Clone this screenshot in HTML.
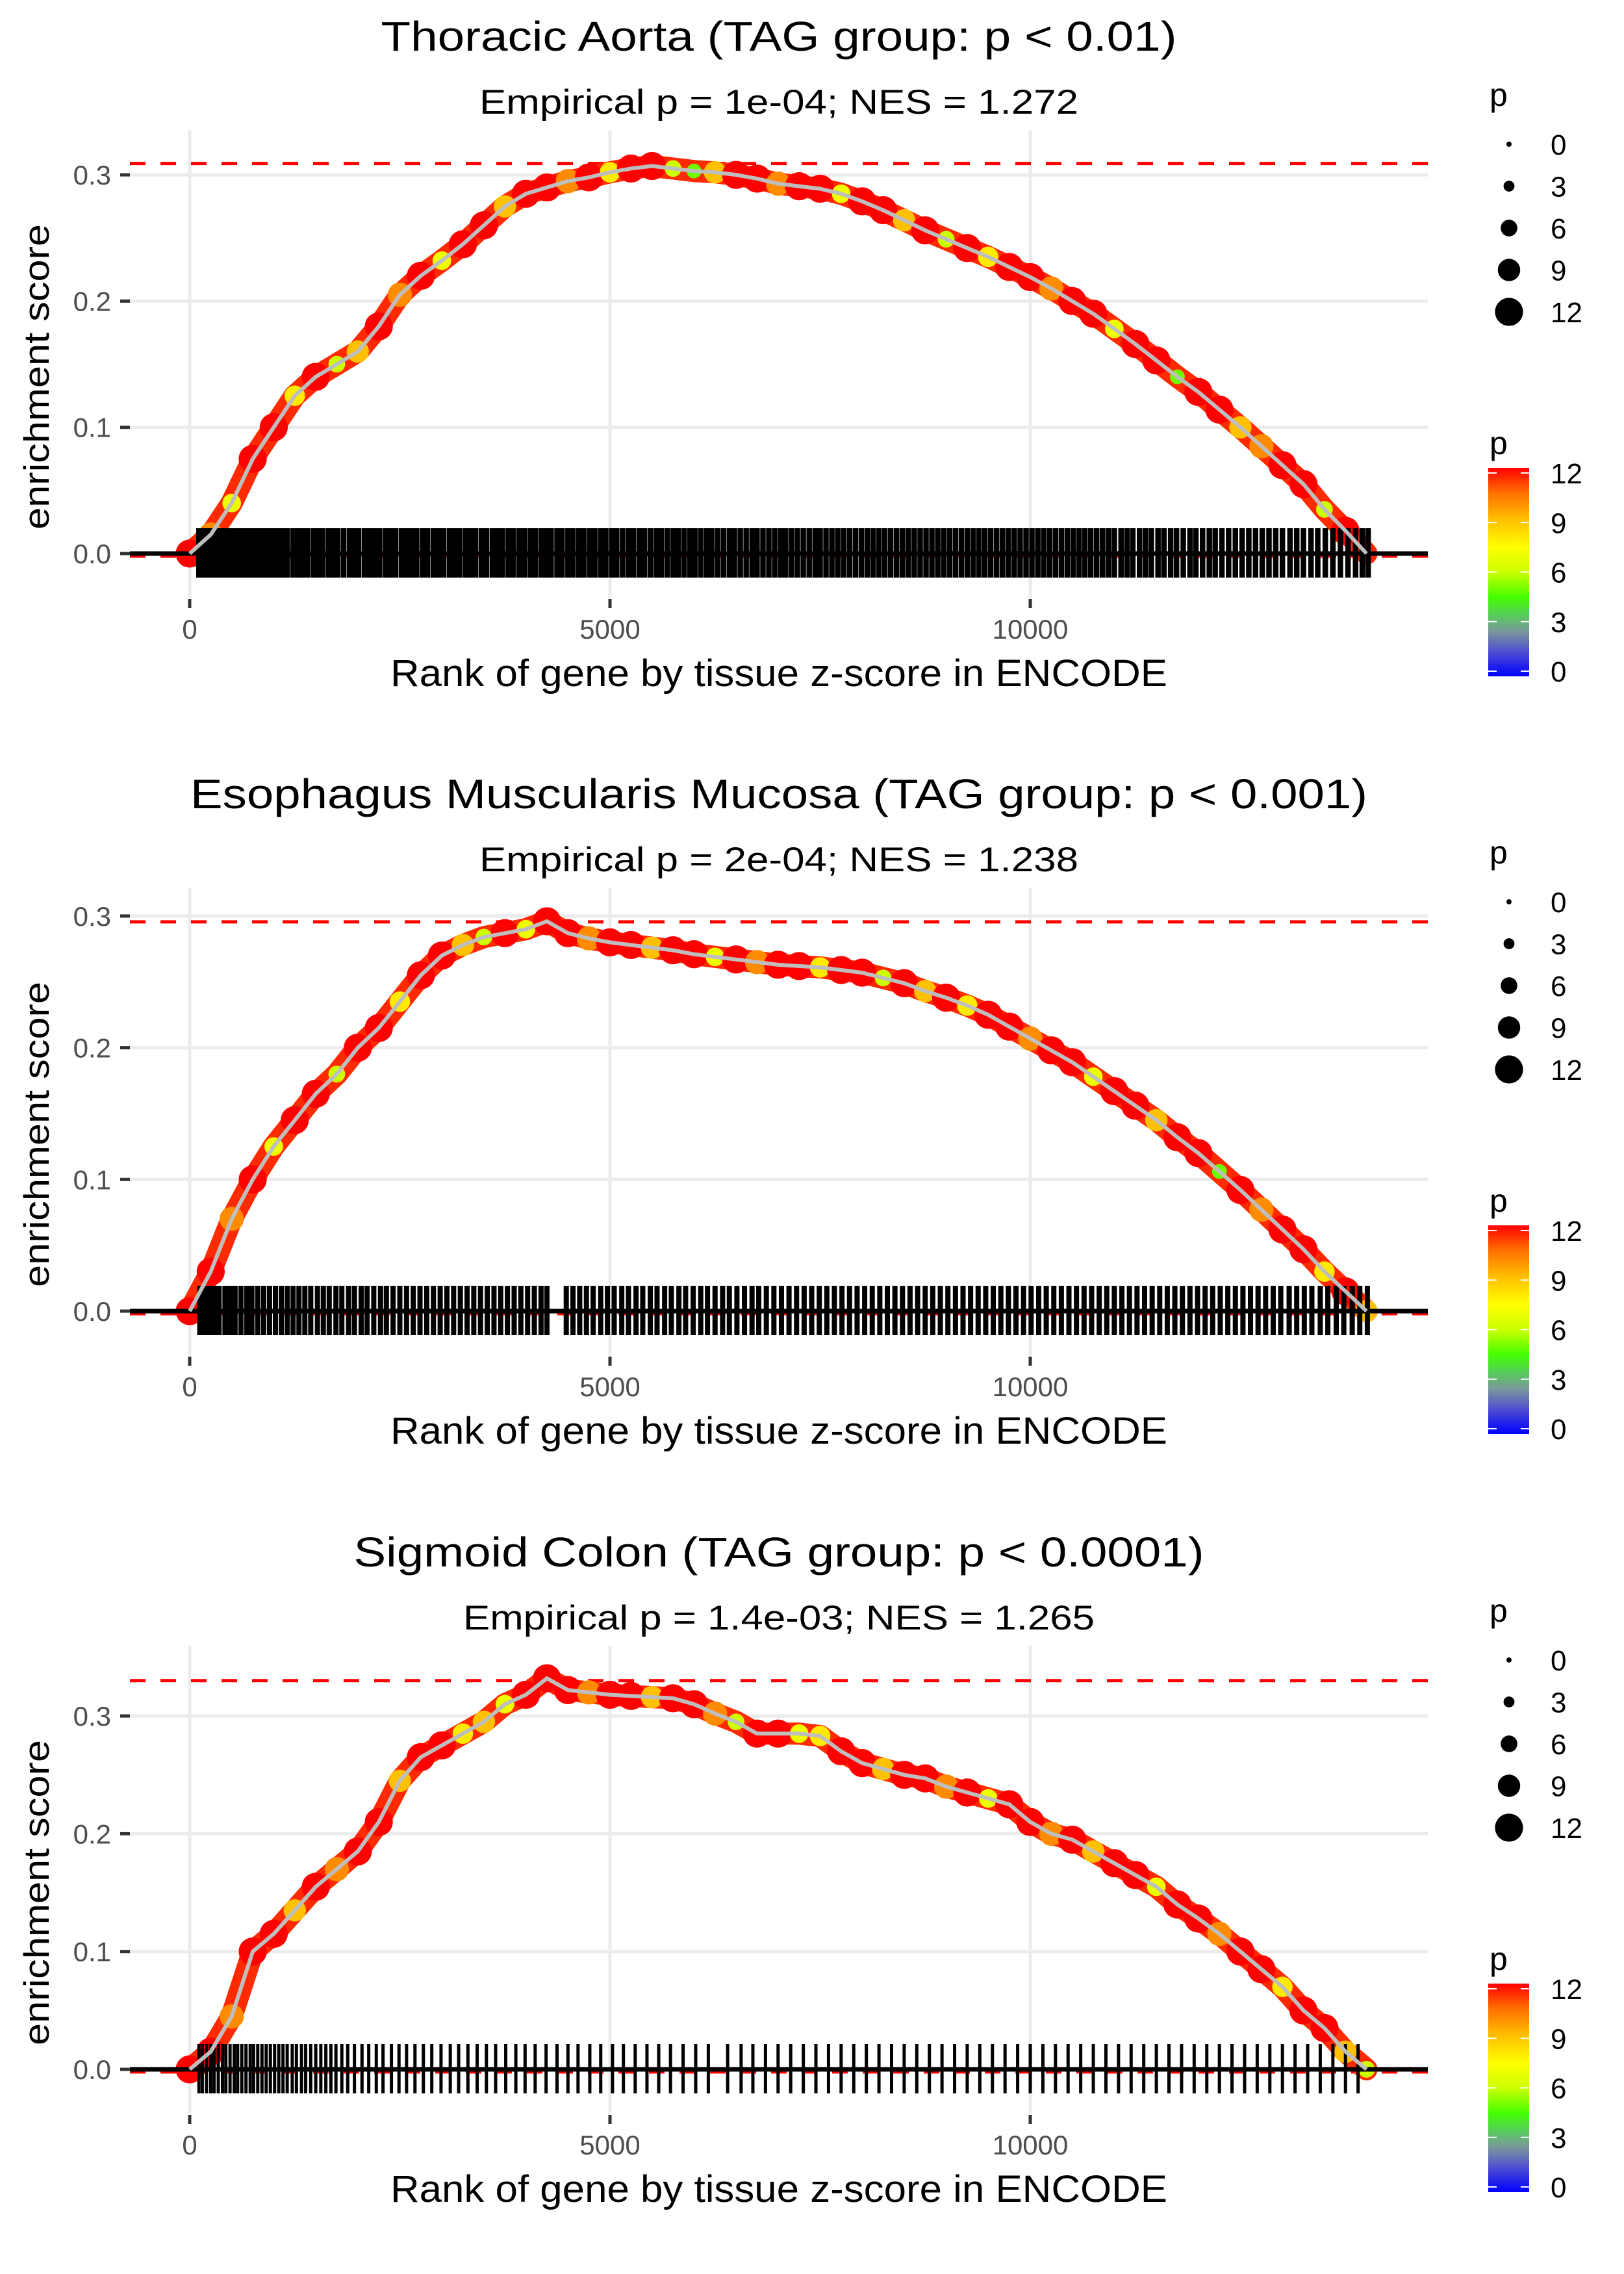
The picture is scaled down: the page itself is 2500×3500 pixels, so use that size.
<!DOCTYPE html>
<html><head><meta charset="utf-8"><style>
html,body{margin:0;padding:0;background:#fff;}
svg{display:block;font-family:"Liberation Sans",Arial,sans-serif;}
</style></head><body>
<svg id="fig" width="2500" height="3500" viewBox="0 0 2500 3500" xmlns="http://www.w3.org/2000/svg">
<defs>
<linearGradient id="pgrad" x1="0" y1="1" x2="0" y2="0">
<stop offset="0" stop-color="#0000ff"/>
<stop offset="0.12" stop-color="#5050d0"/>
<stop offset="0.22" stop-color="#7a9a99"/>
<stop offset="0.3" stop-color="#55d055"/>
<stop offset="0.38" stop-color="#44ff00"/>
<stop offset="0.5" stop-color="#ccff00"/>
<stop offset="0.62" stop-color="#ffff00"/>
<stop offset="0.75" stop-color="#ffc000"/>
<stop offset="0.88" stop-color="#ff7000"/>
<stop offset="1" stop-color="#ff0000"/>
</linearGradient>
</defs>
</svg>
<script>
const ranks = [0,250,500,750,1000,1250,1500,1750,2000,2250,2500,2750,3000,3250,3500,3750,4000,4250,4500,4750,5000,5250,5500,5750,6000,6250,6500,6750,7000,7250,7500,7750,8000,8250,8500,8750,9000,9250,9500,9750,10000,10250,10500,10750,11000,11250,11500,11750,12000,12250,12500,12750,13000,13250,13500,13750,14000];
const es1 = [0,0.015,0.04,0.075,0.10,0.125,0.14,0.15,0.16,0.18,0.205,0.22,0.232,0.245,0.26,0.275,0.285,0.29,0.295,0.298,0.302,0.305,0.307,0.305,0.303,0.302,0.30,0.297,0.293,0.291,0.289,0.285,0.279,0.272,0.264,0.256,0.249,0.242,0.235,0.227,0.219,0.21,0.2,0.19,0.178,0.166,0.153,0.14,0.128,0.114,0.10,0.085,0.07,0.055,0.035,0.018,0.0];
const es2 = [0,0.03,0.07,0.10,0.125,0.145,0.165,0.18,0.2,0.215,0.235,0.255,0.27,0.278,0.284,0.287,0.29,0.296,0.287,0.283,0.28,0.278,0.276,0.274,0.271,0.269,0.267,0.265,0.263,0.262,0.261,0.259,0.257,0.253,0.249,0.243,0.238,0.232,0.225,0.216,0.207,0.198,0.189,0.178,0.167,0.156,0.145,0.132,0.12,0.106,0.092,0.077,0.062,0.047,0.03,0.015,0.0];
const es3 = [0,0.015,0.045,0.10,0.115,0.135,0.155,0.17,0.185,0.21,0.245,0.265,0.275,0.285,0.295,0.31,0.318,0.332,0.322,0.32,0.318,0.317,0.316,0.315,0.31,0.302,0.295,0.285,0.285,0.285,0.283,0.27,0.26,0.255,0.25,0.247,0.24,0.235,0.23,0.225,0.21,0.2,0.195,0.185,0.175,0.165,0.155,0.14,0.128,0.115,0.1,0.085,0.07,0.05,0.035,0.015,0.0];
const p1 = [12,10,7,12,12,8,12,6,9,12,10,12,7,12,12,9,12,12,10,12,8,12,12,6,5,9,12,12,10,12,12,7,12,12,9,12,6,12,8,12,12,10,12,12,7,12,12,5,12,12,9,10,12,12,6,12,3];
const p2 = [12,12,10,12,7,12,12,6,12,12,8,12,12,9,6,12,7,12,12,10,12,12,9,12,12,7,12,10,12,12,8,12,12,6,12,9,12,8,12,12,10,12,12,7,12,12,9,12,12,5,12,10,12,12,8,12,9];
const p3 = [12,12,10,12,12,9,12,10,12,12,9,12,12,8,9,7,12,12,12,10,12,12,9,12,12,10,6,12,12,7,8,12,12,9,12,12,10,12,7,12,12,10,12,9,12,12,7,12,12,10,12,12,8,12,12,9,6];
const rug1 = [110,150,190,240,300,340,400,450,500,540,600,660,700,760,820,870,930,990,1050,1100,1160,1230,1290,1340,1400,1470,1520,1580,1650,1700,1760,1830,1900,1960,2010,2080,2140,2200,2260,2330,2390,2450,2520,2580,2640,2700,2770,2830,2900,2960,3020,3090,3150,3210,3280,3340,3400,3470,3530,3600,3660,3720,3790,3850,3920,3980,4050,4110,4180,4240,4300,4370,4430,4500,4560,4630,4690,4760,4820,4890,4950,5020,5080,5150,5220,5280,5350,5410,5480,5550,5610,5680,5750,5810,5880,5950,6010,6080,6150,6210,6280,6350,6420,6480,6550,6620,6690,6750,6820,6890,6960,7030,7090,7160,7230,7300,7370,7440,7500,7570,7640,7710,7780,7850,7920,7990,8060,8130,8200,8270,8340,8410,8480,8550,8620,8690,8760,8830,8900,8970,9040,9110,9180,9250,9320,9390,9460,9530,9600,9670,9740,9810,9880,9950,10020,10090,10160,10230,10300,10370,10440,10510,10580,10650,10720,10790,10860,10930,11000,11080,11150,11220,11300,11370,11440,11520,11590,11670,11740,11820,11900,11970,12050,12130,12200,12280,12360,12440,12520,12600,12680,12760,12840,12920,13000,13090,13170,13250,13340,13420,13510,13600,13690,13780,13870,13950,14020];
const rug2 = [120,170,230,290,350,420,480,540,610,680,740,810,880,950,1020,1090,1160,1230,1300,1370,1440,1520,1590,1660,1740,1810,1890,1960,2040,2110,2190,2270,2340,2420,2500,2580,2660,2740,2820,2900,2980,3060,3140,3220,3300,3380,3460,3540,3620,3700,3780,3860,3940,4020,4100,4180,4250,4480,4560,4640,4720,4800,4890,4970,5050,5140,5220,5310,5390,5480,5560,5650,5730,5820,5900,5990,6080,6160,6250,6340,6420,6510,6600,6690,6770,6860,6950,7040,7130,7220,7310,7400,7490,7580,7670,7760,7850,7940,8030,8120,8210,8300,8390,8480,8570,8660,8750,8840,8930,9020,9110,9200,9290,9380,9470,9560,9650,9740,9830,9920,10010,10100,10190,10280,10370,10460,10550,10640,10730,10820,10910,11000,11090,11180,11270,11360,11450,11540,11630,11720,11810,11900,11990,12080,12170,12260,12350,12440,12530,12620,12710,12800,12890,12980,13080,13170,13260,13350,13450,13540,13640,13730,13830,13920,14010];
const rug3 = [110,150,200,250,290,340,390,430,480,530,570,620,670,720,760,810,860,910,960,1010,1060,1110,1160,1220,1270,1330,1380,1440,1500,1560,1620,1680,1740,1810,1880,1960,2050,2130,2220,2300,2400,2490,2580,2680,2780,2880,2990,3100,3200,3310,3420,3530,3640,3760,3880,3990,4110,4240,4370,4500,4620,4760,4890,5030,5160,5300,5440,5580,5720,5870,6020,6170,6400,6560,6700,6850,7000,7150,7300,7450,7600,7750,7900,8050,8200,8350,8500,8650,8800,8950,9100,9250,9400,9550,9700,9850,10000,10150,10300,10450,10600,10750,10900,11050,11200,11350,11500,11650,11800,11950,12100,12250,12400,12550,12700,12850,13000,13150,13300,13450,13600,13750,13900];
const titles = ["Thoracic Aorta (TAG group: p < 0.01)","Esophagus Muscularis Mucosa (TAG group: p < 0.001)","Sigmoid Colon (TAG group: p < 0.0001)"];
const subtitles = ["Empirical p = 1e-04; NES = 1.272","Empirical p = 2e-04; NES = 1.238","Empirical p = 1.4e-03; NES = 1.265"];
const maxES = [0.309,0.2956,0.330];
const yTicks = [0,0.1,0.2,0.3];
const yTickLabels = ["0.0","0.1","0.2","0.3"];
const xTicks = [0,5000,10000];
const xTickLabels = ["0","5000","10000"];
const legendVals = [0,3,6,9,12];
const titleW = [1225,1812,1309];
const subW = [922,922,972];

const NS = "http://www.w3.org/2000/svg";
const svg = document.getElementById('fig');
function mk(tag, attrs, parent, text){
  const e = document.createElementNS(NS, tag);
  for (const k in attrs) e.setAttribute(k, attrs[k]);
  if (text !== undefined) e.textContent = text;
  (parent||svg).appendChild(e);
  return e;
}
const stops = [[0,[0,0,255]],[1.5,[80,80,208]],[2.7,[122,154,153]],[3.6,[85,208,85]],[4.6,[68,255,0]],[6,[204,255,0]],[7.5,[255,255,0]],[9,[255,192,0]],[10.5,[255,112,0]],[12,[255,0,0]]];
function pcol(p){
  for (let i=1;i<stops.length;i++){
    if (p<=stops[i][0]){const a=stops[i-1],b=stops[i];const t=(p-a[0])/(b[0]-a[0]);
      const c=a[1].map((v,j)=>Math.round(v+(b[1][j]-v)*t));return 'rgb('+c.join(',')+')';}
  }
  return 'rgb(255,0,0)';
}
function rad(p){ return 4 + 1.47*p; }

const X0 = 292, XK = 0.1294, LEFT = 200, RIGHT = 2198;
function xs(r){ return X0 + r*XK; }
const panels = [
  {y0:852, k:1943, es:es1, p:p1, rug:rug1, rw:8.5},
  {y0:2018, k:2027, es:es2, p:p2, rug:rug2, rw:8},
  {y0:3185, k:1813, es:es3, p:p3, rug:rug3, rw:5}
];
const offs = [0,1166,2333];

panels.forEach((P, i) => {
  const off = offs[i];
  const ys = v => P.y0 - v*P.k;
  const g = mk('g', {});
  
  
  const top = off + 200, bottom = off + 920;
  yTicks.forEach((t, j) => {
    const ln = mk('line', {x1:LEFT, x2:RIGHT, y1:ys(t), y2:ys(t), stroke:'#ebebeb', 'stroke-width':5}, g);
    
    
  });
  xTicks.forEach(t => {
    const ln = mk('line', {x1:xs(t), x2:xs(t), y1:top, y2:bottom, stroke:'#ebebeb', 'stroke-width':5}, g);
    
    
  });
  const d1 = mk('line', {x1:LEFT, x2:RIGHT, y1:ys(maxES[i]), y2:ys(maxES[i]), stroke:'#ff0000', 'stroke-width':5, 'stroke-dasharray':'24 23'}, g);
  
  
  const d2 = mk('line', {x1:LEFT, x2:RIGHT, y1:P.y0+4, y2:P.y0+4, stroke:'#ff0000', 'stroke-width':5, 'stroke-dasharray':'24 23'}, g);
  
  
  const pts = ranks.map((r, j) => xs(r).toFixed(1) + ',' + ys(P.es[j]).toFixed(1)).join(' ');
  // dense hit band underlay
  const band = mk('polyline', {points:pts, fill:'none', stroke:'#ff2a00', 'stroke-width':34, 'stroke-linejoin':'round', 'stroke-linecap':'round'}, g);
  
  
  for (let j = 0; j < ranks.length; j++) {
    const c = mk('circle', {cx:xs(ranks[j]), cy:ys(P.es[j]), r:rad(P.p[j]), fill:pcol(P.p[j])}, g);
    
    
  }
  const rg = mk('g', {}, g);
  
  
  P.rug.forEach(r => {
    const l = mk('line', {x1:xs(r), x2:xs(r), y1:P.y0-39, y2:P.y0+37, stroke:'#000', 'stroke-width':P.rw}, rg);
    
    
  });
  const zl = mk('line', {x1:LEFT, x2:RIGHT, y1:P.y0, y2:P.y0, stroke:'#000', 'stroke-width':7}, g);
  
  
  const pl = mk('polyline', {points:pts, fill:'none', stroke:'#bebebe', 'stroke-width':6, 'stroke-linejoin':'round'}, g);
  
  
  yTicks.forEach((t, j) => {
    const tk = mk('line', {x1:185, x2:200, y1:ys(t), y2:ys(t), stroke:'#333', 'stroke-width':5}, g);
    
    
    const tl = mk('text', {x:171, y:ys(t)+15, 'text-anchor':'end', 'font-size':42, fill:'#4d4d4d'}, g, yTickLabels[j]);
    
    
  });
  xTicks.forEach((t, j) => {
    const tk = mk('line', {x1:xs(t), x2:xs(t), y1:off+922, y2:off+936, stroke:'#333', 'stroke-width':5}, g);
    
    
    const tl = mk('text', {x:xs(t), y:off+983, 'text-anchor':'middle', 'font-size':42, fill:'#4d4d4d'}, g, xTickLabels[j]);
    
    
  });
  const tt = mk('text', {x:1199, y:off+78, 'text-anchor':'middle', 'font-size':64, fill:'#000', textLength:titleW[i], lengthAdjust:'spacingAndGlyphs'}, g, titles[i]);
  
  
  const st = mk('text', {x:1199, y:off+175, 'text-anchor':'middle', 'font-size':53, fill:'#000', textLength:subW[i], lengthAdjust:'spacingAndGlyphs'}, g, subtitles[i]);
  
  
  const xl = mk('text', {x:1199, y:off+1056, 'text-anchor':'middle', 'font-size':58, fill:'#000', textLength:1196, lengthAdjust:'spacingAndGlyphs'}, g, 'Rank of gene by tissue z-score in ENCODE');
  
  
  const yl = mk('text', {x:0, y:0, 'text-anchor':'middle', 'font-size':55, fill:'#000', textLength:470, lengthAdjust:'spacingAndGlyphs', transform:'translate(75,' + (off+580) + ') rotate(-90)'}, g, 'enrichment score');
  
  
  const sg = mk('g', {}, g);
  
  
  const sp = mk('text', {x:2293, y:off+163, 'font-size':50, fill:'#000'}, sg, 'p');
  
  
  legendVals.forEach((v, j) => {
    const cy = off + 222 + j*64.5;
    const c = mk('circle', {cx:2323, cy:cy, r:rad(v), fill:'#000'}, sg);
    
    
    const t = mk('text', {x:2387, y:cy+16, 'font-size':44, fill:'#000'}, sg, String(v));
    
    
  });
  const cg = mk('g', {}, g);
  
  
  const cp = mk('text', {x:2293, y:off+699, 'font-size':50, fill:'#000'}, cg, 'p');
  
  
  const cb = mk('rect', {x:2291, y:off+720, width:63, height:321, fill:'url(#pgrad)'}, cg);
  
  
  legendVals.forEach(v => {
    const y = off + 1033 - v*(305/12);
    const a = mk('line', {x1:2291, x2:2304, y1:y, y2:y, stroke:'#fff', 'stroke-width':2}, cg);
    
    
    const b = mk('line', {x1:2341, x2:2354, y1:y, y2:y, stroke:'#fff', 'stroke-width':2}, cg);
    
    
    const t = mk('text', {x:2387, y:y+16, 'font-size':44, fill:'#000'}, cg, String(v));
    
    
  });
});
</script>
</body></html>
